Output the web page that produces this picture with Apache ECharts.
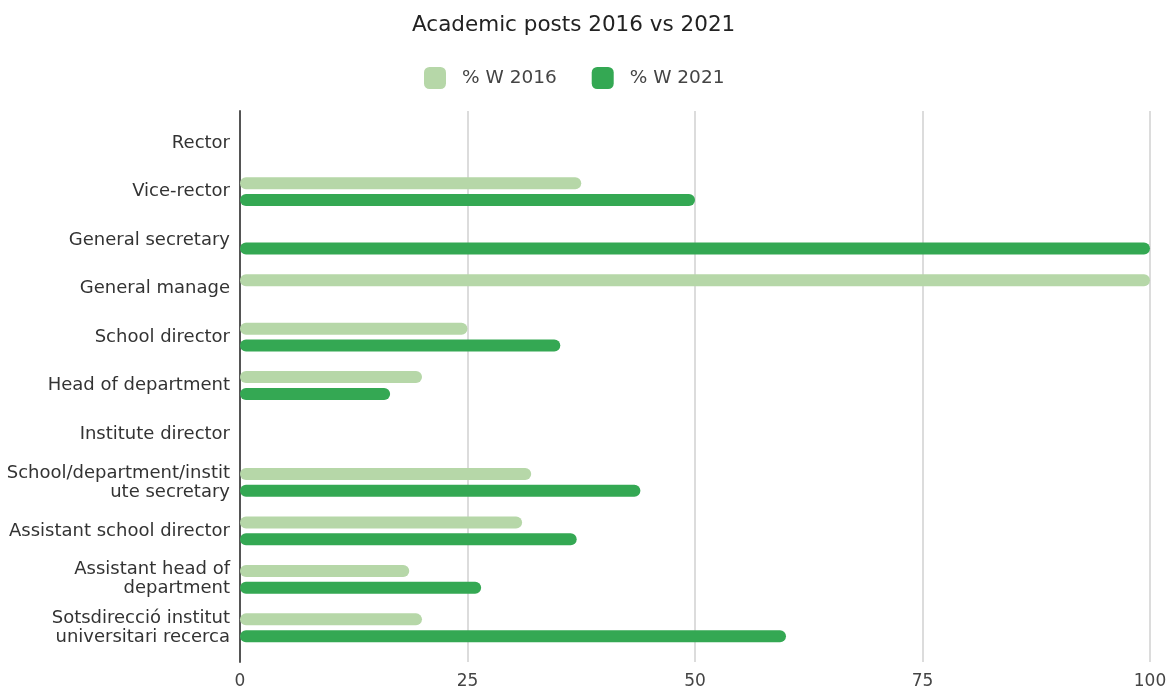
<!DOCTYPE html>
<html><head><meta charset="utf-8">
<script src="https://cdn.jsdelivr.net/npm/echarts@6/dist/echarts.min.js"></script>
<style>html,body{margin:0;padding:0;background:#fff}#c{width:1175px;height:691px}</style>
</head><body><div id="c"></div>
<script>
const categories = [
  "Rector",
  "Vice-rector",
  "General secretary",
  "General manage",
  "School director",
  "Head of department",
  "Institute director",
  "School/department/instit\nute secretary",
  "Assistant school director",
  "Assistant head of\ndepartment",
  "Sotsdirecció institut\nuniversitari recerca"
];
const w2016 = [null, 37.5, null, 100, 25, 20, null, 32, 31, 18.6, 20];
const w2021 = [null, 50, 100, null, 35.2, 16.5, null, 44, 37, 26.5, 60];
const xTicks = [0, 25, 50, 75, 100];

const font = '"DejaVu Sans", sans-serif';
const chart = echarts.init(document.getElementById('c'), null, {renderer: 'canvas'});
chart.setOption({
  animation: false,
  title: {
    text: 'Academic posts 2016 vs 2021', left: 407, top: 9,
    textStyle: {fontFamily: font, fontSize: 21.5, fontWeight: 'normal', color: '#222'}
  },
  legend: {
    top: 62, left: 419, itemWidth: 22, itemHeight: 22, itemGap: 35,
    icon: 'roundRect',
    textStyle: {fontFamily: font, fontSize: 18.5, color: '#444', padding: [0, 0, 0, 11]},
    data: ['% W 2016', '% W 2021']
  },
  grid: [
    {left: 240, right: 25, top: 111, bottom: 29, containLabel: false},
    {left: 240, right: 25, top: 119, bottom: 39, containLabel: false}
  ],
  xAxis: [
    {gridIndex: 0, type: 'value', min: 0, max: 100, interval: 25,
     axisLine: {show: false}, axisTick: {show: false},
     splitLine: {show: true, lineStyle: {color: '#dcdcdc', width: 2}},
     axisLabel: {fontFamily: font, fontSize: 17, color: '#444', margin: 11,
       formatter: v => xTicks.includes(v) ? String(v) : ''}},
    {gridIndex: 1, type: 'value', min: 0, max: 100, show: false}
  ],
  yAxis: [
    {gridIndex: 0, type: 'value', min: 0, max: 1,
     axisLine: {show: true, onZero: false, lineStyle: {color: '#555', width: 2}},
     axisTick: {show: false}, axisLabel: {show: false}, splitLine: {show: false}},
    {gridIndex: 1, type: 'category', data: categories, inverse: true,
     axisLine: {show: false}, axisTick: {show: false}, splitLine: {show: false},
     axisLabel: {fontFamily: font, fontSize: 18, color: '#333', margin: 10, lineHeight: 19, align: 'right'}}
  ],
  series: [
    {name: '% W 2016', type: 'bar', xAxisIndex: 1, yAxisIndex: 1, data: w2016,
     barWidth: 12, barGap: '40%', itemStyle: {color: '#b6d7a8', borderRadius: 6}},
    {name: '% W 2021', type: 'bar', xAxisIndex: 1, yAxisIndex: 1, data: w2021,
     barWidth: 12, barGap: '40%', itemStyle: {color: '#34a853', borderRadius: 6}}
  ]
});
</script></body></html>
